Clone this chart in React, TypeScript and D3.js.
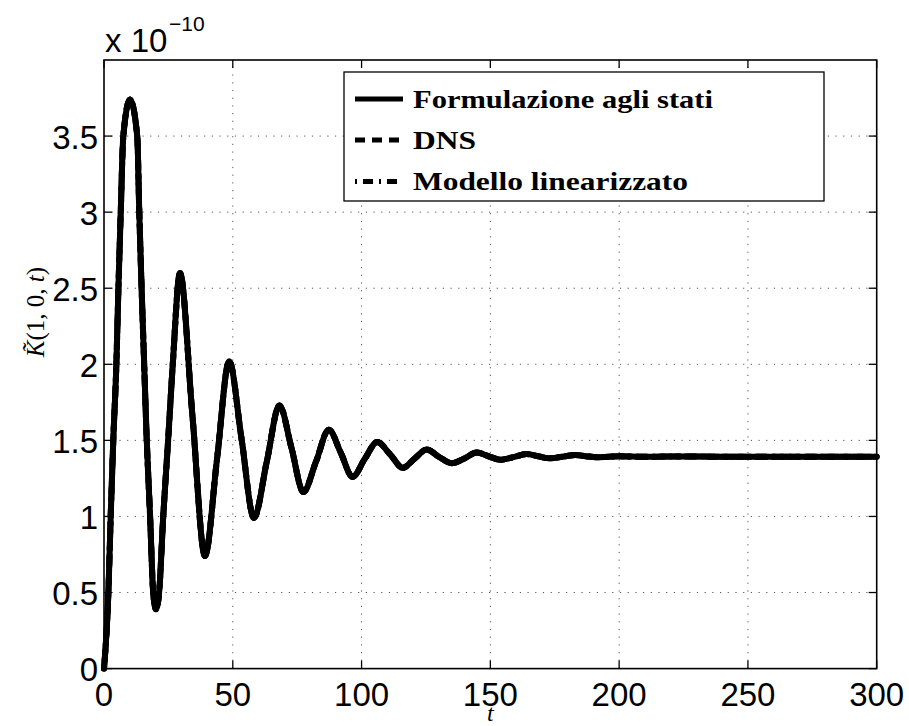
import React from 'react';
import * as d3 from 'd3';

// time samples (t) and K~(1,0,t) values in units of 1e-10
const tValues = [
  0, 1.7, 2.6, 3.6, 4.8, 5.6, 6.5, 7.5, 10.1, 12.9, 13.7, 14.6, 15.6, 16.6, 17.9, 19.1,
  20.2, 21.4, 23.0, 24.9, 26.7, 29.5, 34.3, 39.2, 43.9, 48.6, 53.4, 58.2, 63.2, 68.1,
  72.8, 77.4, 82.3, 87.3, 91.9, 96.5, 101.3, 106.1, 111, 116, 120.6, 125.3, 130.2, 135,
  139.8, 144.7, 149.4, 154, 159, 164, 168.5, 173, 178, 183, 187, 191.5, 200, 210, 220,
  240, 260, 280, 300,
];
const kStati = [
  0, 0.5, 1.0, 1.5, 2.0, 2.5, 3.0, 3.5, 3.74, 3.5, 3.0, 2.5, 2.0, 1.5, 1.0, 0.5,
  0.39, 0.5, 1.0, 1.5, 2.0, 2.6, 1.67, 0.74, 1.38, 2.02, 1.51, 0.99, 1.36, 1.73,
  1.45, 1.16, 1.36, 1.57, 1.42, 1.26, 1.38, 1.49, 1.41, 1.32, 1.38, 1.44, 1.39, 1.35,
  1.38, 1.42, 1.395, 1.373, 1.39, 1.41, 1.396, 1.382, 1.393, 1.404, 1.396, 1.389, 1.395, 1.392, 1.394,
  1.393, 1.393, 1.393, 1.393,
];
// the DNS and linearized model curves coincide with the state formulation in the picture
const kDNS = [...kStati];
const kLin = [...kStati];

const seriesNames = ['Formulazione agli stati', 'DNS', 'Modello linearizzato'];
const xTicks = [0, 50, 100, 150, 200, 250, 300];
const yTicks = [0, 0.5, 1, 1.5, 2, 2.5, 3, 3.5];
const yTickLabels = ['0', '0.5', '1', '1.5', '2', '2.5', '3', '3.5'];

const W = 909;
const H = 726;
const L = 104;
const R = 876.7;
const T = 60;
const B = 668.6;

export default function App() {
  const x = d3.scaleLinear().domain([0, 300]).range([L, R]);
  const y = d3.scaleLinear().domain([0, 4]).range([B, T]);
  const mk = (vals: number[]) =>
    d3
      .line<number>()
      .x((_, i) => x(tValues[i]))
      .y((d) => y(d))
      .curve(d3.curveMonotoneX)(vals) || '';

  const dashes = [null, '10,7', '2,6,10,6'];
  const series = [kStati, kDNS, kLin];
  const tickLen = 8;
  const sans = '"Liberation Sans", Arial, Helvetica, sans-serif';
  const serif = '"Liberation Serif", "DejaVu Serif", serif';

  const legendX = 344;
  const legendY = 72;
  const legendW = 480;
  const legendH = 129;
  const rowY = [99, 140, 181.5];
  const textLens = [300, 63, 275];

  return (
    <svg
      width={W}
      height={H}
      style={{ position: 'absolute', left: 0, top: 0, background: '#fff' }}
    >
      <rect x={0} y={0} width={W} height={H} fill="#fff" />
      {/* grid */}
      <g stroke="#555" strokeWidth={1} strokeDasharray="1.2,6.5">
        {xTicks
          .filter((t) => t > 0 && t < 300)
          .map((t) => (
            <line key={'gx' + t} x1={x(t)} x2={x(t)} y1={B} y2={T} />
          ))}
        {yTicks
          .filter((v) => v > 0)
          .map((v) => (
            <line key={'gy' + v} x1={L} x2={R} y1={y(v)} y2={y(v)} />
          ))}
      </g>
      {/* curves */}
      {series.map((s, i) => (
        <path
          key={'s' + i}
          d={mk(s)}
          fill="none"
          stroke="#000"
          strokeWidth={6}
          strokeLinejoin="round"
          strokeLinecap="round"
          strokeDasharray={dashes[i] || undefined}
        />
      ))}
      {/* axes box */}
      <rect x={L} y={T} width={R - L} height={B - T} fill="none" stroke="#000" strokeWidth={1.6} />
      <g stroke="#000" strokeWidth={1.3}>
        {xTicks.map((t) => (
          <g key={'tx' + t}>
            <line x1={x(t)} x2={x(t)} y1={B} y2={B - tickLen} />
            <line x1={x(t)} x2={x(t)} y1={T} y2={T + tickLen} />
          </g>
        ))}
        {yTicks.map((v) => (
          <g key={'ty' + v}>
            <line x1={L} x2={L + tickLen} y1={y(v)} y2={y(v)} />
            <line x1={R} x2={R - tickLen} y1={y(v)} y2={y(v)} />
          </g>
        ))}
      </g>
      {/* tick labels */}
      <g fontFamily={sans} fontSize={33} fill="#000">
        {xTicks.map((t) => (
          <text key={'lx' + t} x={x(t)} y={706} textAnchor="middle">
            {String(t)}
          </text>
        ))}
        {yTicks.map((v, i) => (
          <text key={'ly' + v} x={98} y={y(v) + 12.5} textAnchor="end">
            {yTickLabels[i]}
          </text>
        ))}
        <text x={105} y={51.5}>
          x 10
        </text>
        <text x={169} y={30.5} fontSize={21}>
          −10
        </text>
      </g>
      {/* axis labels */}
      <text
        x={x(150)}
        y={721}
        textAnchor="middle"
        fontFamily={serif}
        fontStyle="italic"
        fontSize={24}
      >
        t
      </text>
      <text
        transform={`translate(44,${312}) rotate(-90)`}
        textAnchor="middle"
        fontFamily={serif}
        fontSize={25}
      >
        <tspan fontStyle="italic">{'K\u0303'}</tspan>
        <tspan>(1, 0, </tspan>
        <tspan fontStyle="italic">t</tspan>
        <tspan>)</tspan>
      </text>
      {/* legend */}
      <rect x={legendX} y={legendY} width={legendW} height={legendH} fill="#fff" stroke="#000" strokeWidth={1.3} />
      {seriesNames.map((name, i) => (
        <g key={'lg' + i}>
          <line
            x1={355}
            x2={403}
            y1={rowY[i]}
            y2={rowY[i]}
            stroke="#000"
            strokeWidth={5}
            strokeDasharray={dashes[i] || undefined}
          />
          <text
            x={413}
            y={rowY[i] + 8.5}
            fontFamily={serif}
            fontWeight="bold"
            fontSize={25}
            textLength={textLens[i]}
            lengthAdjust="spacingAndGlyphs"
          >
            {name}
          </text>
        </g>
      ))}
    </svg>
  );
}
